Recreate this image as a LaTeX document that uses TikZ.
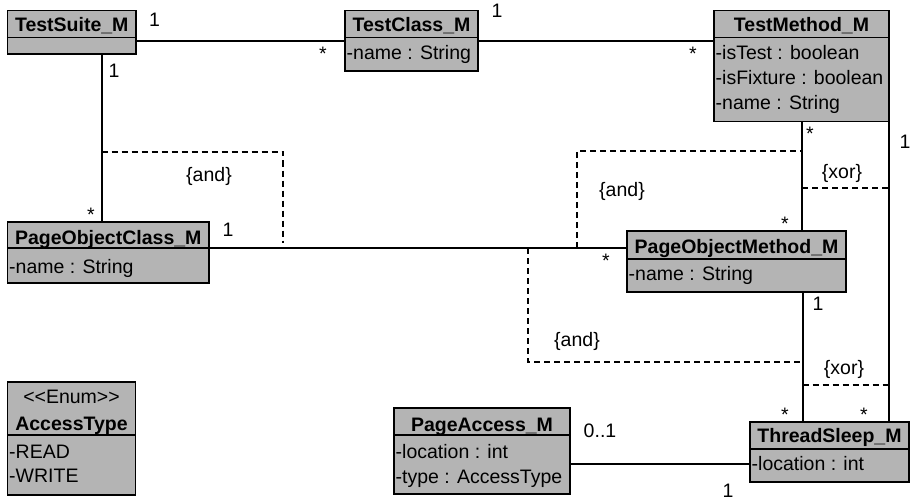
\documentclass[tikz,border=0pt]{standalone}
\usepackage{fontspec}
\setmainfont{Liberation Sans}
\definecolor{boxgray}{RGB}{180,180,180}

\begin{document}
\begin{tikzpicture}[x=1pt,y=-1pt,font=\fontsize{19.5}{24}\selectfont,
    every node/.style={inner sep=0pt,anchor=base},
    classbox/.style={draw,fill=boxgray,line width=1.2pt,anchor=center},
    ttl/.style={font=\fontsize{19.5}{24}\selectfont\bfseries},
    attr/.style={anchor=base west},
    sep/.style={line width=1.2pt},
    assoc/.style={line width=2pt},
    constr/.style={line width=1.8pt,dash pattern=on 6pt off 4pt}]
    \useasboundingbox (0,0) rectangle (910,500);

    % classes
    \node[classbox,minimum width=128.5,minimum height=43.5] (TS) at (71.75,32.25) {};
    \node[classbox,minimum width=133,minimum height=60.5] (TC) at (411.5,40.75) {};
    \node[classbox,minimum width=175,minimum height=111] (TM) at (801.5,66) {};
    \node[classbox,minimum width=201.5,minimum height=61] (POC) at (108.25,252.5) {};
    \node[classbox,minimum width=219,minimum height=61] (POM) at (736.5,261.5) {};
    \node[classbox,minimum width=128,minimum height=113] (AT) at (71.5,438.5) {};
    \node[classbox,minimum width=176,minimum height=86] (PA) at (482,451) {};
    \node[classbox,minimum width=159,minimum height=60] (TSl) at (829.5,452) {};

    \draw[sep] (TS.west |- 0,37.5) -- (TS.east |- 0,37.5);
    \draw[sep] (TC.west |- 0,37.5) -- (TC.east |- 0,37.5);
    \draw[sep] (TM.west |- 0,37.5) -- (TM.east |- 0,37.5);
    \draw[sep] (POC.west |- 0,248) -- (POC.east |- 0,248);
    \draw[sep] (POM.west |- 0,259) -- (POM.east |- 0,259);
    \draw[sep] (AT.west |- 0,435) -- (AT.east |- 0,435);
    \draw[sep] (PA.west |- 0,435) -- (PA.east |- 0,435);
    \draw[sep] (TSl.west |- 0,449) -- (TSl.east |- 0,449);

    \node[ttl] (TS-t) at (71.75,32) {TestSuite\_M};
    \node[ttl] (TC-t) at (411.5,32) {TestClass\_M};
    \node[attr] (TC-a) at (346.5,60) {-name : String};
    \node[ttl] (TM-t) at (801.5,32) {TestMethod\_M};
    \node[attr] (TM-a1) at (715.5,60) {-isTest : boolean};
    \node[attr] (TM-a2) at (715.5,85) {-isFixture : boolean};
    \node[attr] (TM-a3) at (715.5,110) {-name : String};
    \node[ttl] (POC-t) at (108.25,244) {PageObjectClass\_M};
    \node[attr] (POC-a) at (9,273) {-name : String};
    \node[ttl] (POM-t) at (736.5,253) {PageObjectMethod\_M};
    \node[attr] (POM-a) at (628.5,280) {-name : String};
    \node (AT-s) at (71.5,403) {<\kern0pt<Enum>\kern0pt>};
    \node[ttl] (AT-t) at (71.5,430) {AccessType};
    \node[attr] (AT-a1) at (9,458) {-READ};
    \node[attr] (AT-a2) at (9,482) {-WRITE};
    \node[ttl] (PA-t) at (482,431) {PageAccess\_M};
    \node[attr] (PA-a1) at (395.5,458) {-location : int};
    \node[attr] (PA-a2) at (395.5,483) {-type : AccessType};
    \node[ttl] (TSl-t) at (829.5,442) {ThreadSleep\_M};
    \node[attr] (TSl-a) at (751.5,470) {-location : int};

    % associations
    \draw[assoc] (TS.east |- TC.west) -- (TC.west);
    \draw[assoc] (TC.east) -- (TC.east -| TM.west);
    \draw[assoc] (101.5,0 |- TS.south) -- (101.5,0 |- POC.north);
    \draw[assoc] (POC.east |- 0,248) -- (POM.west |- 0,248);
    \draw[assoc] (802,0 |- TM.south) -- (802,0 |- POM.north);
    \draw[assoc] (802.5,0 |- POM.south) -- (802.5,0 |- TSl.north);
    \draw[assoc] (888.5,0 |- TM.south) -- (888.5,0 |- TSl.north);
    \draw[assoc] (PA.east |- 0,464) -- (TSl.west |- 0,464);

    % constraints
    \draw[constr] (101.5,152) -- (283,152) -- (283,243);
    \draw[constr] (577,248) -- (577,151) -- (802,151);
    \draw[constr] (802,188) -- (888.5,188);
    \draw[constr] (528,248) -- (528,362) -- (802.5,362);
    \draw[constr] (802.5,385) -- (888.5,385);
    \node (and1) at (209,181) {\{and\}};
    \node (and2) at (622,196) {\{and\}};
    \node (xor1) at (842,178) {\{xor\}};
    \node (and3) at (577,346) {\{and\}};
    \node (xor2) at (844,374) {\{xor\}};

    % multiplicities
    \node (m1) at (154.5,27) {1};
    \node (m2) at (323,61) {*};
    \node (m3) at (497,18) {1};
    \node (m4) at (693,61) {*};
    \node (m5) at (114,78) {1};
    \node (m6) at (91,221.5) {*};
    \node (m7) at (228,236) {1};
    \node (m8) at (606,267) {*};
    \node (m9) at (810,141) {*};
    \node (m10) at (785,230.5) {*};
    \node (m11) at (818,310) {1};
    \node (m12) at (785,421.5) {*};
    \node (m13) at (905,149) {1};
    \node (m14) at (864,421.5) {*};
    \node (m15) at (600,437) {0..1};
    \node (m16) at (728,497) {1};
\end{tikzpicture}
\end{document}
